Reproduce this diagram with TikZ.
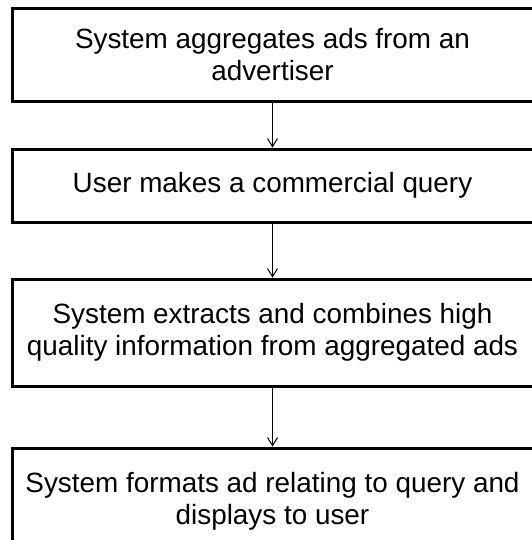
\documentclass[tikz,border=0pt]{standalone}
\usepackage{fontspec}
\setmainfont{Liberation Sans}
\usetikzlibrary{arrows.meta}
\begin{document}
\begin{tikzpicture}[x=0.75pt,y=-0.75pt,
  stepbox/.style={draw=black,line width=2.25pt,fill=white,minimum width=521*0.75pt,align=center,inner sep=0pt,font=\fontsize{20.9pt}{24pt}\selectfont},
  flow/.style={draw=black,line width=0.75pt,-{Straight Barb[length=6pt,width=7.5pt,line width=0.75pt]}}]
\useasboundingbox (0,0) rectangle (532,540);
\clip (0,0) rectangle (532,540);
\fill[white] (0,0) rectangle (532,540);
\node[stepbox,minimum height=93*0.75pt] (b1) at (272.5,54.5) {System aggregates ads from an\\advertiser};
\node[stepbox,minimum height=73*0.75pt] (b2) at (272.5,185.5) {User makes a commercial query};
\node[stepbox,minimum height=107*0.75pt] (b3) at (272.5,332.5) {System extracts and combines high\\quality information from aggregated ads};
\node[stepbox,minimum height=107*0.75pt] (b4) at (272.5,501.5) {System formats ad relating to query and\\displays to user};
\draw[flow] (b1.south) -- (b2.north);
\draw[flow] (b2.south) -- (b3.north);
\draw[flow] (b3.south) -- (b4.north);
\end{tikzpicture}
\end{document}
